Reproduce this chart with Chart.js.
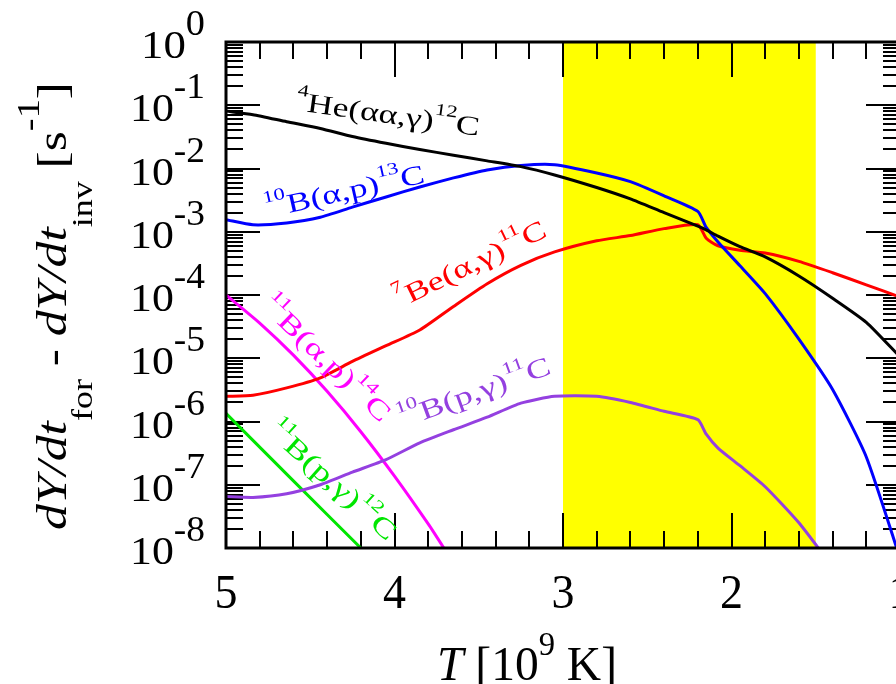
<!DOCTYPE html>
<html>
<head>
<meta charset="utf-8">
<script src="https://cdn.jsdelivr.net/npm/chart.js@4.4.1/dist/chart.umd.min.js"></script>
<style>
  html, body { margin: 0; padding: 0; background: #fff; overflow: hidden; }
  #wrap { width: 920px; height: 684px; }
</style>
</head>
<body>
<div id="wrap"><canvas id="rateChart" width="920" height="684"></canvas></div>
<script>
// temperature grid, T in 10^9 K (axis runs 5 -> 1)
const temps = [5.0, 4.84, 4.64, 4.44, 4.25, 4.05, 3.85, 3.65, 3.45, 3.25, 3.05,
  2.8, 2.6, 2.4, 2.2, 2.15, 2.08, 1.95, 1.8, 1.6, 1.4, 1.2, 1.0];

// dY/dt_for - dY/dt_inv [s^-1]
const rateHe4 = [8.1e-2, 7.1e-2, 5.5e-2, 4.3e-2, 3.2e-2, 2.5e-2, 2.0e-2, 1.62e-2, 1.32e-2, 1.07e-2, 7.9e-3,
  5.0e-3, 3.3e-3, 2.0e-3, 1.23e-3, 1.07e-3, 8.5e-4, 5.8e-4, 4.0e-4, 2.0e-4, 8.9e-5, 3.7e-5, 1.05e-5];
const rateB10ap = [1.55e-3, 1.29e-3, 1.38e-3, 1.70e-3, 2.45e-3, 3.55e-3, 5.1e-3, 7.1e-3, 9.5e-3, 1.12e-2, 1.15e-2,
  8.5e-3, 6.2e-3, 3.7e-3, 2.1e-3, 1.17e-3, 6.9e-4, 2.9e-4, 1.05e-4, 2.0e-5, 3.2e-6, 2.75e-7, 6.9e-9];
const rateBe7 = [2.5e-6, 2.6e-6, 3.4e-6, 4.9e-6, 8.9e-6, 1.58e-5, 2.8e-5, 6.6e-5, 1.51e-4, 2.95e-4, 4.8e-4,
  7.2e-4, 8.7e-4, 1.12e-3, 1.29e-3, 7.9e-4, 6.0e-4, 5.1e-4, 4.6e-4, 3.4e-4, 2.25e-4, 1.45e-4, 9.3e-5];
const rateB10pg = [6.5e-8, 6.3e-8, 7.2e-8, 1.0e-7, 1.58e-7, 2.5e-7, 4.6e-7, 7.4e-7, 1.17e-6, 1.95e-6, 2.5e-6,
  2.5e-6, 2.0e-6, 1.45e-6, 1.07e-6, 6.3e-7, 3.8e-7, 2.0e-7, 9.3e-8, 2.5e-8, 5.0e-9, null, null];

const tempsB11ap = [5.0, 4.8, 4.6, 4.4, 4.2, 4.0, 3.8, 3.7, 3.6];
const rateB11ap = [1.0e-4, 3.6e-5, 1.12e-5, 3.0e-6, 6.9e-7, 1.37e-7, 2.4e-8, 9.3e-9, 3.5e-9];

const tempsB11pg = [5.0, 4.6, 4.2, 4.1];
const rateB11pg = [1.35e-6, 1.15e-7, 1.0e-8, 5.4e-9];

// shaded window
const bandFrom = 3.0;
const bandTo = 1.5;

const xTickLabels = ['5', '4', '3', '2', '1'];
const xTickValues = [5, 4, 3, 2, 1];
const yDecades = [0, -1, -2, -3, -4, -5, -6, -7, -8];

const SERIF = '"Liberation Serif", "Times New Roman", "DejaVu Serif", serif';

function pts(xs, ys) {
  return xs.map((t, i) => ({ x: t, y: ys[i] }));
}

function series(data, color) {
  return {
    data: data,
    borderColor: color,
    borderWidth: 3,
    pointRadius: 0,
    fill: false,
    tension: 0.2,
    spanGaps: false,
  };
}

// text made of pieces, some raised or lowered; fitted along its
// direction to a given width
function drawRich(ctx, x, y, angle, parts, color, width, align) {
  ctx.save();
  let natural = 0;
  parts.forEach(p => { ctx.font = p.font; natural += ctx.measureText(p.t).width; });
  const sx = width / natural;
  ctx.translate(x, y);
  ctx.rotate(angle * Math.PI / 180);
  ctx.scale(sx, 1);
  ctx.fillStyle = color;
  ctx.textAlign = 'left';
  ctx.textBaseline = 'alphabetic';
  let cx = align === 'right' ? -natural : align === 'center' ? -natural / 2 : 0;
  parts.forEach(p => {
    ctx.font = p.font;
    ctx.fillText(p.t, cx, p.dy || 0);
    cx += ctx.measureText(p.t).width;
  });
  ctx.restore();
}

function reaction(pre, mid, post) {
  const big = '27px ' + SERIF, small = '17px ' + SERIF;
  return [
    { t: pre, font: small, dy: -15 },
    { t: mid, font: big },
    { t: post, font: small, dy: -15 },
    { t: 'C', font: big },
  ];
}

// curve labels: anchor (T, rate), angle in degrees, length in px
const curveLabels = [
  { T: 4.59, v: 8.4e-2, a: 8, w: 185, color: '#000000', parts: reaction('4', 'He(αα,γ)', '12') },
  { T: 4.757, v: 1.65e-3, a: -12.7, w: 163, color: '#0000ff', parts: reaction('10', 'B(α,p)', '13') },
  { T: 3.967, v: 6.2e-5, a: -26, w: 165, color: '#ff0000', parts: reaction('7', 'Be(α,γ)', '11') },
  { T: 4.80, v: 6.5e-5, a: 44, w: 168, color: '#ff00ff', parts: reaction('11', 'B(α,p)', '14') },
  { T: 3.955, v: 7.9e-7, a: -20, w: 160, color: '#9440e0', parts: reaction('10', 'B(p,γ)', '11') },
  { T: 4.763, v: 6.6e-7, a: 42, w: 163, color: '#00e600', parts: reaction('11', 'B(p,γ)', '12') },
];

const framePlugin = {
  id: 'framePlugin',
  beforeDatasetsDraw(chart) {
    const { ctx, chartArea: a, scales: { x, y } } = chart;
    ctx.save();
    // yellow band
    const b0 = x.getPixelForValue(bandFrom), b1 = x.getPixelForValue(bandTo);
    ctx.fillStyle = '#ffff00';
    ctx.fillRect(Math.min(b0, b1), a.top, Math.abs(b1 - b0), a.bottom - a.top);

    // ticks, all pointing inward
    ctx.strokeStyle = '#000';
    ctx.lineWidth = 2;
    ctx.beginPath();
    for (let t = 50; t >= 10; t -= 2) {
      const px = Math.round(x.getPixelForValue(t / 10));
      const len = t % 10 === 0 ? 35 : 17;
      ctx.moveTo(px, a.bottom); ctx.lineTo(px, a.bottom - len);
      ctx.moveTo(px, a.top); ctx.lineTo(px, a.top + len);
    }
    yDecades.forEach(d => {
      for (let m = 1; m <= 9; m++) {
        if (d === 0 && m > 1) continue;
        const py = Math.round(y.getPixelForValue(m * Math.pow(10, d)));
        const len = m === 1 ? 34 : 17;
        ctx.moveTo(a.left, py); ctx.lineTo(a.left + len, py);
        ctx.moveTo(a.right, py); ctx.lineTo(a.right - len, py);
      }
    });
    ctx.stroke();
    ctx.restore();
  },
  afterDatasetsDraw(chart) {
    const { ctx, chartArea: a, scales: { x, y } } = chart;
    ctx.save();
    ctx.strokeStyle = '#000';
    ctx.lineWidth = 3;
    ctx.strokeRect(a.left, a.top, a.right - a.left, a.bottom - a.top);

    // y tick labels 10^n
    yDecades.forEach(d => {
      const py = y.getPixelForValue(Math.pow(10, d));
      const exp = d === 0 ? '0' : '-' + (-d);
      drawRich(ctx, 205, py + 16, 0, [
        { t: '10', font: '41px ' + SERIF },
        { t: exp, font: '35px ' + SERIF, dy: -23 },
      ], '#000', d === 0 ? 64 : 75, 'right');
    });

    // x tick labels
    xTickValues.forEach((v, i) => {
      drawRich(ctx, x.getPixelForValue(v), 608, 0,
        [{ t: xTickLabels[i], font: '48px ' + SERIF }], '#000', 23, 'center');
    });

    // axis titles
    drawRich(ctx, 437, 680, 0, [
      { t: 'T', font: 'italic 48px ' + SERIF },
      { t: ' [10', font: '48px ' + SERIF },
      { t: '9', font: '33px ' + SERIF, dy: -25 },
      { t: ' K]', font: '48px ' + SERIF },
    ], '#000', 180);

    const it = 'italic 43px ' + SERIF, up = '43px ' + SERIF, sub = '30px ' + SERIF;
    drawRich(ctx, 66, 530, -90, [
      { t: 'dY/dt', font: it },
      { t: 'for', font: sub, dy: 26 },
      { t: ' - ', font: up },
      { t: 'dY/dt', font: it },
      { t: 'inv', font: sub, dy: 26 },
      { t: ' [s', font: up },
      { t: '-1', font: '32px ' + SERIF, dy: -27 },
      { t: ']', font: up },
    ], '#000', 448);

    // curve labels
    curveLabels.forEach(l => {
      drawRich(ctx, x.getPixelForValue(l.T), y.getPixelForValue(l.v), l.a, l.parts, l.color, l.w);
    });
    ctx.restore();
  }
};

new Chart(document.getElementById('rateChart'), {
  type: 'line',
  data: {
    datasets: [
      series(pts(temps, rateHe4), '#000000'),
      series(pts(temps, rateB10ap), '#0000ff'),
      series(pts(temps, rateBe7), '#ff0000'),
      series(pts(temps, rateB10pg), '#9440e0'),
      series(pts(tempsB11ap, rateB11ap), '#ff00ff'),
      series(pts(tempsB11pg, rateB11pg), '#00e600'),
    ]
  },
  options: {
    responsive: false,
    animation: false,
    devicePixelRatio: 1,
    layout: { padding: { left: 0, top: 42, right: 20, bottom: 0 } },
    plugins: { legend: { display: false }, tooltip: { enabled: false } },
    scales: {
      x: {
        type: 'linear',
        min: 1,
        max: 5,
        reverse: true,
        grid: { display: false },
        border: { display: false },
        ticks: { display: false },
        afterFit(scale) { scale.height = 136; }
      },
      y: {
        type: 'logarithmic',
        min: 1e-8,
        max: 1,
        grid: { display: false },
        border: { display: false },
        ticks: { display: false },
        afterFit(scale) { scale.width = 226; }
      }
    }
  },
  plugins: [framePlugin]
});
</script>
</body>
</html>
